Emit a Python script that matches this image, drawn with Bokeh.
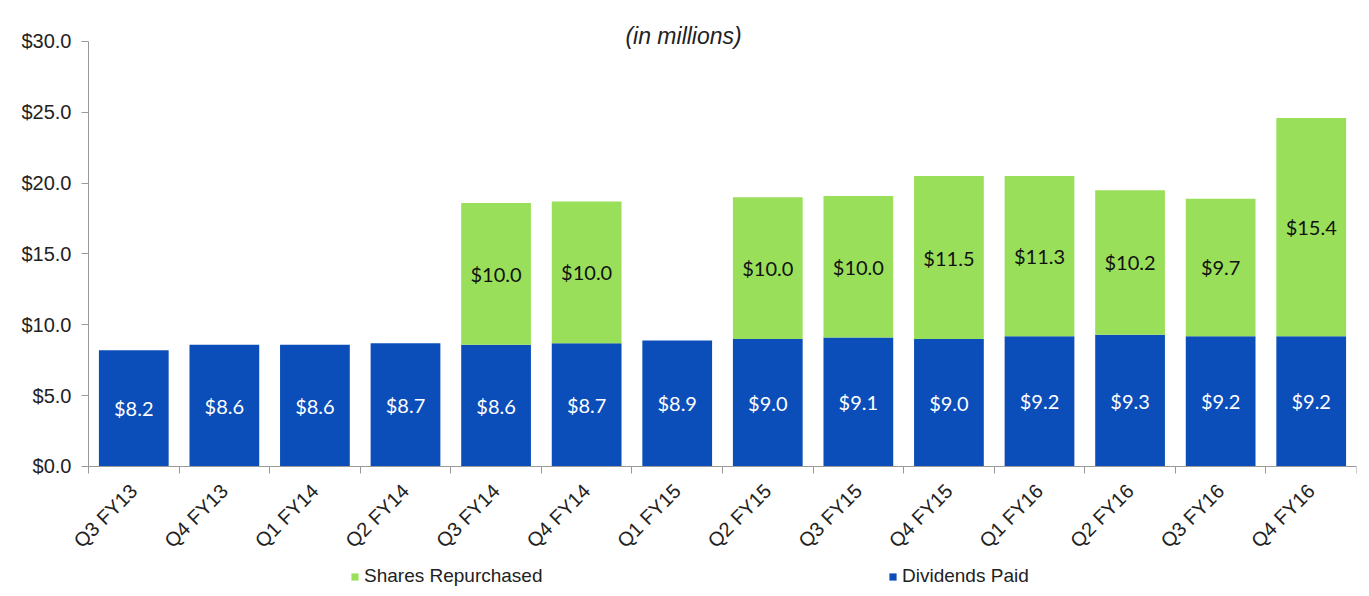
from bokeh.plotting import figure
from bokeh.models import ColumnDataSource, FixedTicker, Legend, LegendItem, NumeralTickFormatter, Range1d
from bokeh.core.properties import value
from bokeh.embed import file_html
from bokeh.resources import INLINE
import math

quarters = ["Q3 FY13", "Q4 FY13", "Q1 FY14", "Q2 FY14", "Q3 FY14", "Q4 FY14", "Q1 FY15",
            "Q2 FY15", "Q3 FY15", "Q4 FY15", "Q1 FY16", "Q2 FY16", "Q3 FY16", "Q4 FY16"]
dividends = [8.2, 8.6, 8.6, 8.7, 8.6, 8.7, 8.9, 9.0, 9.1, 9.0, 9.2, 9.3, 9.2, 9.2]
repurchased = [0, 0, 0, 0, 10.0, 10.0, 0, 10.0, 10.0, 11.5, 11.3, 10.2, 9.7, 15.4]
y_ticks = [0, 5, 10, 15, 20, 25, 30]

BLUE = "#0B4DB9"
GREEN = "#9ADF5A"

n = len(quarters)
xs = [i + 0.5 for i in range(n)]
top_rep = [d + r for d, r in zip(dividends, repurchased)]

src = ColumnDataSource(dict(
    x=xs, div=dividends, rep=repurchased, top=top_rep,
    div_mid=[d / 2 for d in dividends],
    div_lbl=["$%.1f" % d for d in dividends],
))
rep_idx = [i for i, r in enumerate(repurchased) if r > 0]
src_rep = ColumnDataSource(dict(
    x=[xs[i] for i in rep_idx],
    y=[dividends[i] + repurchased[i] / 2 for i in rep_idx],
    lbl=["$%.1f" % repurchased[i] for i in rep_idx],
))

p = figure(width=1361, height=588, output_backend="svg", toolbar_location=None,
           x_range=Range1d(-0.9716, n), y_range=Range1d(-8.612, 32.894),
           min_border_left=0, min_border_right=5, min_border_top=0, min_border_bottom=0)
p.outline_line_color = None
p.grid.visible = False

r_div = p.vbar(x="x", top="div", bottom=0, width=0.77, source=src, color=BLUE, line_color=None)
r_rep = p.vbar(x="x", top="top", bottom="div", width=0.77, source=src, color=GREEN, line_color=None)

p.text(x="x", y="div_mid", text="div_lbl", source=src, text_color="white",
       text_font=value("Lato"), text_font_size="20px", text_align="center", text_baseline="middle")
p.text(x="x", y="y", text="lbl", source=src_rep, text_color="#111111",
       text_font=value("Lato"), text_font_size="20px", text_align="center", text_baseline="middle")

p.text(x=[6.57], y=[30.42], text=["(in millions)"], text_color="#222222",
       text_font=value("Liberation Sans"), text_font_style="italic", text_font_size="23px",
       text_align="center", text_baseline="middle")

# y axis, drawn at x = 0 inside the frame
p.yaxis.fixed_location = 0
p.yaxis.ticker = FixedTicker(ticks=y_ticks)
p.yaxis.formatter = NumeralTickFormatter(format="$0.0")
p.yaxis.bounds = (0, 30)
p.yaxis.axis_line_color = "#999999"
p.yaxis.major_tick_line_color = "#999999"
p.yaxis.major_tick_out = 7
p.yaxis.major_tick_in = 0
p.yaxis.minor_tick_line_color = None
p.yaxis.major_label_text_font = "Liberation Sans"
p.yaxis.major_label_text_font_size = "20px"
p.yaxis.major_label_text_color = "#222222"
p.yaxis.major_label_standoff = 10

# x axis, drawn at y = 0 inside the frame
p.xaxis.fixed_location = 0
p.xaxis.bounds = (0, n)
p.xaxis.ticker = FixedTicker(ticks=xs, minor_ticks=list(range(n + 1)))
p.xaxis.major_label_overrides = {x: q for x, q in zip(xs, quarters)}
p.xaxis.axis_line_color = "#999999"
p.xaxis.major_tick_line_color = None
p.xaxis.minor_tick_line_color = "#999999"
p.xaxis.minor_tick_out = 7
p.xaxis.minor_tick_in = 0
p.xaxis.major_label_orientation = math.pi / 4
p.xaxis.major_label_text_font = "Liberation Sans"
p.xaxis.major_label_text_font_size = "20px"
p.xaxis.major_label_text_color = "#222222"
p.xaxis.major_label_standoff = 14

legend = Legend(items=[LegendItem(label="Shares Repurchased", renderers=[r_rep]),
                       LegendItem(label="Dividends Paid", renderers=[r_div])],
                orientation="horizontal", location=(350, 1), spacing=339,
                label_text_font="Liberation Sans", label_text_font_size="19px",
                label_text_color="#222222", glyph_width=9, glyph_height=9,
                label_standoff=5, label_width=185, border_line_color=None,
                background_fill_alpha=0, padding=2, margin=0, label_height=16)
p.add_layout(legend, "center")

open("out.html", "w").write(file_html(p, INLINE))
